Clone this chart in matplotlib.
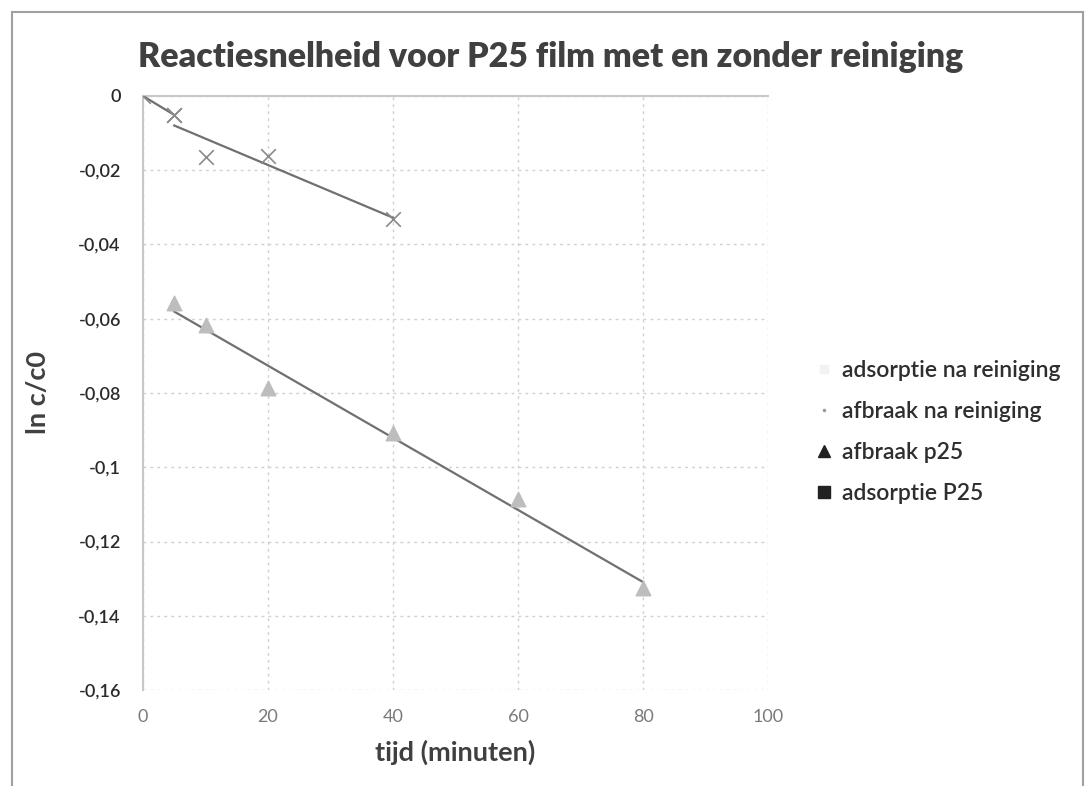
import matplotlib
matplotlib.use("Agg")
import matplotlib.pyplot as plt
from matplotlib.lines import Line2D
from matplotlib.patches import Rectangle
from matplotlib.ticker import FuncFormatter, MultipleLocator
import numpy as np

plt.rcParams['font.family'] = ['Lato', 'DejaVu Sans']

# adsorptie na reiniging
ads_na_x = [0, 5]
ads_na_y = [0.0, -0.0051]
# afbraak na reiniging
afb_na_x = [5, 10, 20, 40]
afb_na_y = [-0.0051, -0.0164, -0.0162, -0.0331]
# afbraak p25
afb_p25_x = [5, 10, 20, 40, 60, 80]
afb_p25_y = [-0.0558, -0.0617, -0.0787, -0.0908, -0.1086, -0.1325]

legend_labels = ["adsorptie na reiniging", "afbraak na reiniging", "afbraak p25", "adsorptie P25"]

fig = plt.figure(figsize=(10.88, 7.86), dpi=100)
ax = fig.add_axes([143/1088, 1 - 690/786, 625/1088, 594/786])

# chart border
fig.patches.append(Rectangle((12/1088, -0.01), 1071/1088, 1 - 12/786 + 0.01,
                             transform=fig.transFigure, fill=False,
                             edgecolor='#a0a0a0', linewidth=1.5))

def trend(x, y):
    k, b = np.polyfit(x, y, 1)
    xs = np.array([min(x), max(x)])
    return xs, k*xs + b

ax.scatter(ads_na_x, ads_na_y, marker='x', s=110, color='#8a8a8a', linewidths=1.2, zorder=4)
ax.scatter(afb_na_x, afb_na_y, marker='x', s=110, color='#8a8a8a', linewidths=1.2, zorder=4)
ax.scatter(afb_p25_x, afb_p25_y, marker='^', s=110, color='#bdbdbd', zorder=4)

for xs, ys in [trend(ads_na_x, ads_na_y), trend(afb_na_x, afb_na_y), trend(afb_p25_x, afb_p25_y)]:
    ax.plot(xs, ys, color='#707070', linewidth=1.6, zorder=3)

ax.set_xlim(0, 100)
ax.set_ylim(-0.16, 0)
ax.xaxis.set_major_locator(MultipleLocator(20))
ax.yaxis.set_major_locator(MultipleLocator(0.02))
ax.yaxis.set_major_formatter(FuncFormatter(lambda v, p: ('%g' % round(v, 3)).replace('.', ',')))
ax.grid(True, linestyle=(0, (2, 3)), color='#d0d0d0', linewidth=1)
ax.set_axisbelow(True)

for s in ['right', 'bottom']:
    ax.spines[s].set_visible(False)
ax.spines['left'].set_color('#c8c8c8')
ax.spines['top'].set_color('#c8c8c8')
ax.spines['left'].set_linewidth(1.5)
ax.spines['top'].set_linewidth(1.5)
ax.tick_params(axis='both', length=0)
ax.tick_params(axis='x', colors='#7a7a7a', labelsize=13, pad=14)
ax.tick_params(axis='y', labelcolor='#2a2a2a', labelsize=13, pad=16)
for lbl in ax.get_yticklabels():
    lbl.set_fontweight('semibold')

ax.set_xlabel("tijd (minuten)", fontsize=19.5, fontweight='bold', color='#404040', labelpad=10)
ax.set_ylabel("ln c/c0", fontsize=19.5, fontweight='bold', color='#404040', labelpad=20)
fig.text(551/1088, 1 - 57/786, "Reactiesnelheid voor P25 film met en zonder reiniging",
         ha='center', va='center', fontsize=24.4, fontweight='heavy', color='#404040')

handles = [
    Line2D([], [], linestyle='none', marker='s', markersize=6, color='#f2f2f2'),
    Line2D([], [], linestyle='none', marker='.', markersize=3, color='#9a9a9a'),
    Line2D([], [], linestyle='none', marker='^', markersize=8, color='#222222'),
    Line2D([], [], linestyle='none', marker='s', markersize=8, color='#222222'),
]
leg = fig.legend(handles, legend_labels, loc='center left', bbox_to_anchor=(796/1088, 1 - 432/786),
                 frameon=False, fontsize=16.5, handlelength=0.6, handletextpad=0.5,
                 labelspacing=0.88)
for t in leg.get_texts():
    t.set_color('#2e2e2e')
    t.set_fontweight('semibold')

fig.savefig("out.png", dpi=100)
